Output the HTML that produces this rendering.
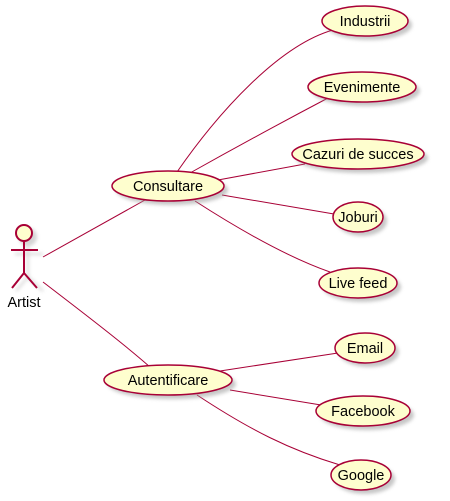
<!DOCTYPE html>
<html><head><meta charset="utf-8"><style>
html,body{margin:0;padding:0;background:#fff;width:450px;height:501px;overflow:hidden}
svg{display:block}
text{font-family:"Liberation Sans",sans-serif;font-size:14.5px;fill:#000}
</style></head><body>
<svg width="450" height="501" viewBox="0 0 450 501">
<defs><filter id="sh" x="-20%" y="-20%" width="150%" height="170%"><feGaussianBlur stdDeviation="1.8"/></filter></defs>
<g fill="none" stroke="#A80036" stroke-width="1">
<path d="M43,257 L145,200"/>
<path d="M43,282 C90,318 125,345 150,367"/>
<path d="M177,172 C220,110 280,45 333,30"/>
<path d="M190,173 C240,145 290,118 328,98"/>
<path d="M218,180 L305,164"/>
<path d="M222,195 L334,214"/>
<path d="M195,201 C240,230 290,258 330,272"/>
<path d="M220,371 L338,353"/>
<path d="M230,390 L321,405"/>
<path d="M197,395 C250,430 290,450 340,465"/>
</g>
<g>
<g fill="#aaa" stroke="#aaa" stroke-width="2" opacity="0.5" filter="url(#sh)" transform="translate(4,4)">
<circle cx="24" cy="233" r="8"/><path d="M24,241V273M11,250H39M24,273L12,287M24,273L39,287" fill="none"/>
</g>
<circle cx="24" cy="233" r="8" fill="#FEFECE" stroke="#A80036" stroke-width="2"/>
<path d="M24,241V273M11,250H38M24,273L12,288M24,273L37,288" fill="none" stroke="#A80036" stroke-width="2"/>
<text x="24" y="307" text-anchor="middle">Artist</text>
</g>
<g id="cases"></g>
</svg>
<script>
const labels=["Consultare","Autentificare","Industrii","Evenimente","Cazuri de succes","Joburi","Live feed","Email","Facebook","Google"];
const cx=[168,168,365,362,358,358,358,365,363,361];
const cy=[186,380,21,87,154,217,283,348,411,475];
const rx=[56,64,43,54,66,25,39,30,47,30];
const g=document.getElementById('cases');
const NS='http://www.w3.org/2000/svg';
labels.forEach((l,i)=>{
 const grp=document.createElementNS(NS,'g');
 
 
 const s=document.createElementNS(NS,'ellipse');
 s.setAttribute('cx',cx[i]+4);s.setAttribute('cy',cy[i]+4);s.setAttribute('rx',rx[i]);s.setAttribute('ry',15);
 s.setAttribute('fill','#999');s.setAttribute('opacity','0.55');s.setAttribute('filter','url(#sh)');
 grp.appendChild(s);
 const e=document.createElementNS(NS,'ellipse');
 e.setAttribute('cx',cx[i]);e.setAttribute('cy',cy[i]);e.setAttribute('rx',rx[i]);e.setAttribute('ry',15);
 e.setAttribute('fill','#FEFECE');e.setAttribute('stroke','#A80036');e.setAttribute('stroke-width','1.5');
 grp.appendChild(e);
 const t=document.createElementNS(NS,'text');
 t.setAttribute('x',cx[i]);t.setAttribute('y',cy[i]+5);t.setAttribute('text-anchor','middle');
 
 
 t.textContent=l;
 grp.appendChild(t);
 g.appendChild(grp);
});
</script>
</body></html>
